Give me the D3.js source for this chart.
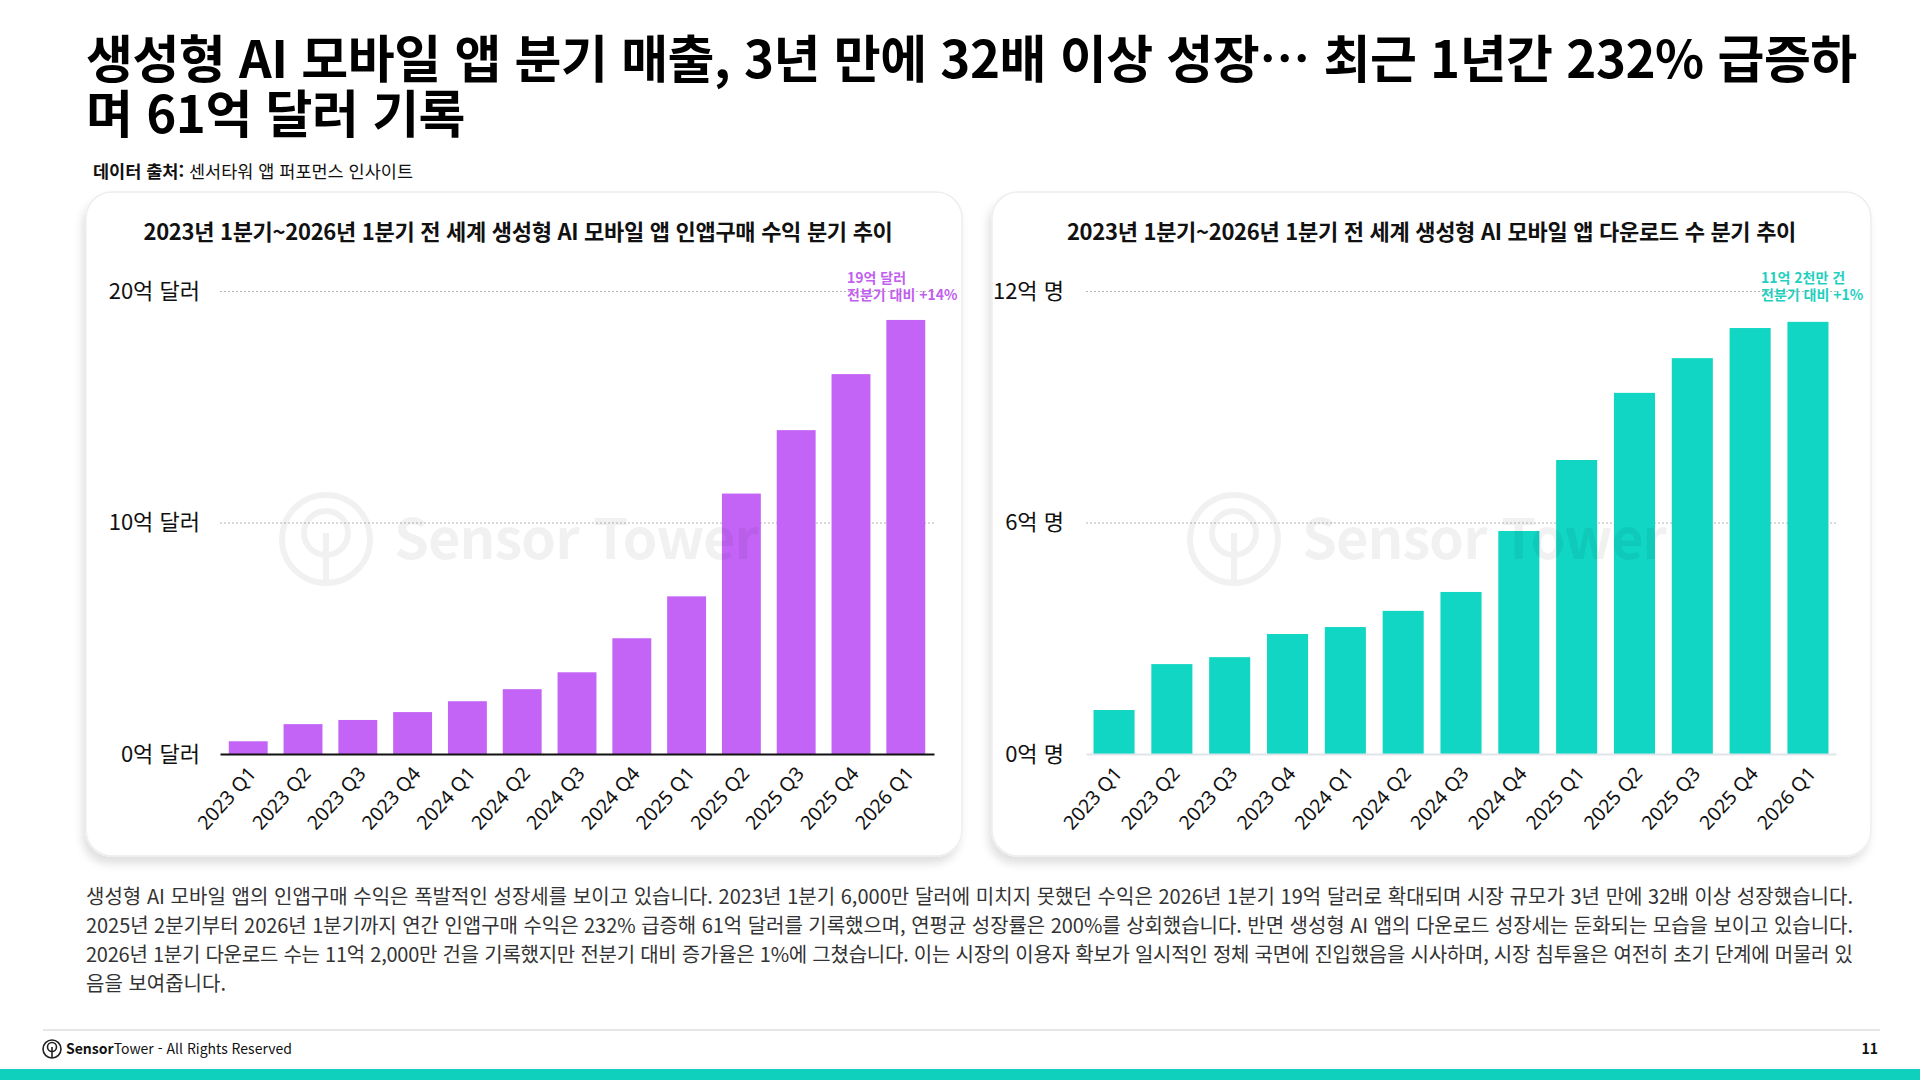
<!DOCTYPE html>
<html lang="ko">
<head>
<meta charset="utf-8">
<script src="https://cdn.jsdelivr.net/npm/d3@7"></script>
<style>
  body { margin: 0; background: #fff; }
  svg text { font-family: "Noto Sans CJK KR", "Noto Sans", sans-serif; }
</style>
</head>
<body>
<div id="page"></div>
<script>
// data
const quarters = ["2023 Q1","2023 Q2","2023 Q3","2023 Q4","2024 Q1","2024 Q2","2024 Q3","2024 Q4","2025 Q1","2025 Q2","2025 Q3","2025 Q4","2026 Q1"];
const revenue = [0.55, 1.29, 1.47, 1.81, 2.28, 2.80, 3.53, 5.00, 6.81, 11.25, 13.99, 16.41, 18.75]; // 억 달러
const downloads = [1.14, 2.33, 2.51, 3.11, 3.29, 3.71, 4.20, 5.78, 7.62, 9.36, 10.26, 11.04, 11.20]; // 억 명
const revenueTicks = [0, 10, 20];
const downloadTicks = [0, 6, 12];
const revenueNote = ["19억 달러", "전분기 대비 +14%"];
const downloadNote = ["11억 2천만 건", "전분기 대비 +1%"];

const titleLines = ["생성형 AI 모바일 앱 분기 매출, 3년 만에 32배 이상 성장… 최근 1년간 232% 급증하", "며 61억 달러 기록"];
const bodyLines = [
  "생성형 AI 모바일 앱의 인앱구매 수익은 폭발적인 성장세를 보이고 있습니다. 2023년 1분기 6,000만 달러에 미치지 못했던 수익은 2026년 1분기 19억 달러로 확대되며 시장 규모가 3년 만에 32배 이상 성장했습니다.",
  "2025년 2분기부터 2026년 1분기까지 연간 인앱구매 수익은 232% 급증해 61억 달러를 기록했으며, 연평균 성장률은 200%를 상회했습니다. 반면 생성형 AI 앱의 다운로드 성장세는 둔화되는 모습을 보이고 있습니다.",
  "2026년 1분기 다운로드 수는 11억 2,000만 건을 기록했지만 전분기 대비 증가율은 1%에 그쳤습니다. 이는 시장의 이용자 확보가 일시적인 정체 국면에 진입했음을 시사하며, 시장 침투율은 여전히 초기 단계에 머물러 있",
  "음을 보여줍니다."
];

const W = 1920, H = 1080;
const svg = d3.select("#page").append("svg")
  .attr("width", W).attr("height", H)
  .attr("viewBox", `0 0 ${W} ${H}`);

const defs = svg.append("defs");
defs.append("filter").attr("id", "cardShadow")
  .attr("x", "-5%").attr("y", "-5%").attr("width", "110%").attr("height", "115%")
  .append("feDropShadow")
  .attr("dx", -3).attr("dy", 7).attr("stdDeviation", 4)
  .attr("flood-color", "#000").attr("flood-opacity", 0.12);

// page title (one text block, two lines)
svg.append("text")
  .attr("font-size", 51).attr("font-weight", 700).attr("fill", "#000")
  .attr("letter-spacing", "-0.5px")
  .selectAll("tspan").data(titleLines).join("tspan")
  .attr("x", 86)
  .attr("y", (d, i) => 78 + i * 55)
  .text(d => d);

const src = svg.append("text").attr("x", 93).attr("y", 178).attr("font-size", 17.5).attr("fill", "#111");
src.append("tspan").attr("font-weight", 700).text("데이터 출처: ");
src.append("tspan").text("센서타워 앱 퍼포먼스 인사이트");

function watermark(g, cx, cy) {
  const w = g.append("g").attr("opacity", 0.05).attr("pointer-events", "none");
  w.append("circle").attr("cx", cx).attr("cy", cy).attr("r", 44)
    .attr("fill", "none").attr("stroke", "#000").attr("stroke-width", 6);
  w.append("circle").attr("cx", cx).attr("cy", cy - 6).attr("r", 22)
    .attr("fill", "none").attr("stroke", "#000").attr("stroke-width", 6);
  w.append("line").attr("x1", cx).attr("x2", cx).attr("y1", cy - 6).attr("y2", cy + 42)
    .attr("stroke", "#000").attr("stroke-width", 6);
  w.append("text").attr("x", cx + 68).attr("y", cy + 20)
    .attr("font-size", 56).attr("font-weight", 700).attr("fill", "#000")
    .attr("letter-spacing", "-1px")
    .text("Sensor Tower");
}

function drawPanel(cfg) {
  const g = svg.append("g");
  // card
  g.append("rect")
    .attr("x", cfg.card.x).attr("y", 192).attr("width", cfg.card.w).attr("height", 664)
    .attr("rx", 26).attr("fill", "#fff")
    .attr("stroke", "#eeeeee").attr("stroke-width", 1.5)
    .attr("filter", "url(#cardShadow)");

  g.append("text")
    .attr("x", cfg.card.x + cfg.card.w / 2 + cfg.titleShift).attr("y", 240)
    .attr("text-anchor", "middle")
    .attr("font-size", 22).attr("font-weight", 700).attr("fill", "#111")
    .attr("letter-spacing", "-0.3px")
    .text(cfg.title);

  const x = d3.scaleBand().domain(quarters)
    .range(cfg.range).paddingInner(0.29).paddingOuter(cfg.outer);
  const y = d3.scaleLinear().domain([0, cfg.ticks[2]]).range([754, 291]);

  const yAxis = d3.axisLeft(y)
    .tickValues(cfg.ticks)
    .tickSize(-(cfg.range[1] - cfg.range[0]))
    .tickPadding(cfg.labelGap)
    .tickFormat(d => `${d}억 ${cfg.unit}`);

  const ya = g.append("g").attr("transform", `translate(${cfg.range[0]},0)`).call(yAxis);
  ya.select(".domain").remove();
  ya.selectAll(".tick line")
    .attr("stroke", "#b5b5b5").attr("stroke-dasharray", "2,2")
    .filter(d => d === 0).remove();
  ya.selectAll(".tick text")
    .attr("font-size", 22).attr("fill", "#111")
    .style("font-family", '"Noto Sans CJK KR", sans-serif');

  g.append("g").selectAll("rect").data(cfg.values).join("rect")
    .attr("x", (d, i) => x(quarters[i]))
    .attr("y", d => y(d))
    .attr("width", x.bandwidth())
    .attr("height", d => y(0) - y(d))
    .attr("fill", cfg.color);

  const xAxis = d3.axisBottom(x).tickSize(0).tickPadding(0);
  const xa = g.append("g").attr("transform", `translate(0,${y(0)})`).call(xAxis);
  xa.select(".domain").attr("stroke", cfg.baseColor).attr("stroke-width", cfg.baseWidth);
  xa.selectAll(".tick text")
    .attr("text-anchor", "end")
    .attr("font-size", 19.5).attr("fill", "#111")
    .style("font-family", '"Noto Sans", sans-serif')
    .attr("dy", "0.35em")
    .attr("transform", "translate(4,16) rotate(-48)");

  watermark(g, cfg.mark, 539);

  g.append("g").selectAll("text").data(cfg.note).join("text")
    .attr("x", cfg.noteX)
    .attr("y", (d, i) => 283 + i * 17)
    .attr("font-size", 14).attr("font-weight", 700).attr("fill", cfg.noteColor)
    .text(d => d);
}

drawPanel({
  card: { x: 86, w: 876 }, titleShift: -6,
  title: "2023년 1분기~2026년 1분기 전 세계 생성형 AI 모바일 앱 인앱구매 수익 분기 추이",
  values: revenue, ticks: revenueTicks, unit: "달러",
  range: [220, 934], outer: 0.16, labelGap: 20,
  color: "#c464f7", baseColor: "#111", baseWidth: 2,
  note: revenueNote, noteColor: "#c25ff0", noteX: 847, mark: 326
});

drawPanel({
  card: { x: 992, w: 879 }, titleShift: 0,
  title: "2023년 1분기~2026년 1분기 전 세계 생성형 AI 모바일 앱 다운로드 수 분기 추이",
  values: downloads, ticks: downloadTicks, unit: "명",
  range: [1086, 1836], outer: 0.13, labelGap: 22,
  color: "#10d6c3", baseColor: "#dfe3ea", baseWidth: 2,
  note: downloadNote, noteColor: "#1fd0bf", noteX: 1761, mark: 1234
});

// commentary, justified like the reference except the last line
svg.append("g").selectAll("text").data(bodyLines).join("text")
  .attr("x", 86)
  .attr("y", (d, i) => 904 + i * 29)
  .attr("font-size", 20).attr("fill", "#333")
  .each(function (d, i) {
    if (i < bodyLines.length - 1) {
      d3.select(this).attr("textLength", 1767).attr("lengthAdjust", "spacing");
    }
  })
  .text(d => d);

// footer
svg.append("line").attr("x1", 43).attr("x2", 1880).attr("y1", 1030).attr("y2", 1030)
  .attr("stroke", "#e6e6e6").attr("stroke-width", 2);
const fl = svg.append("g").attr("transform", "translate(52,1049)");
fl.append("circle").attr("r", 9).attr("fill", "none").attr("stroke", "#222").attr("stroke-width", 1.6);
fl.append("circle").attr("cy", -2).attr("r", 4.5).attr("fill", "none").attr("stroke", "#222").attr("stroke-width", 1.6);
fl.append("line").attr("y1", -2).attr("y2", 9).attr("stroke", "#222").attr("stroke-width", 1.6);
const ft = svg.append("text").attr("x", 66).attr("y", 1054).attr("font-size", 14).attr("fill", "#111");
ft.append("tspan").attr("font-weight", 700).text("Sensor");
ft.append("tspan").text("Tower - All Rights Reserved");
svg.append("text").attr("x", 1878).attr("y", 1054).attr("text-anchor", "end")
  .attr("font-size", 14).attr("font-weight", 700).attr("fill", "#111").text("11");
svg.append("rect").attr("x", 0).attr("y", 1069).attr("width", W).attr("height", 11).attr("fill", "#0fcfbd");
</script>
</body>
</html>
